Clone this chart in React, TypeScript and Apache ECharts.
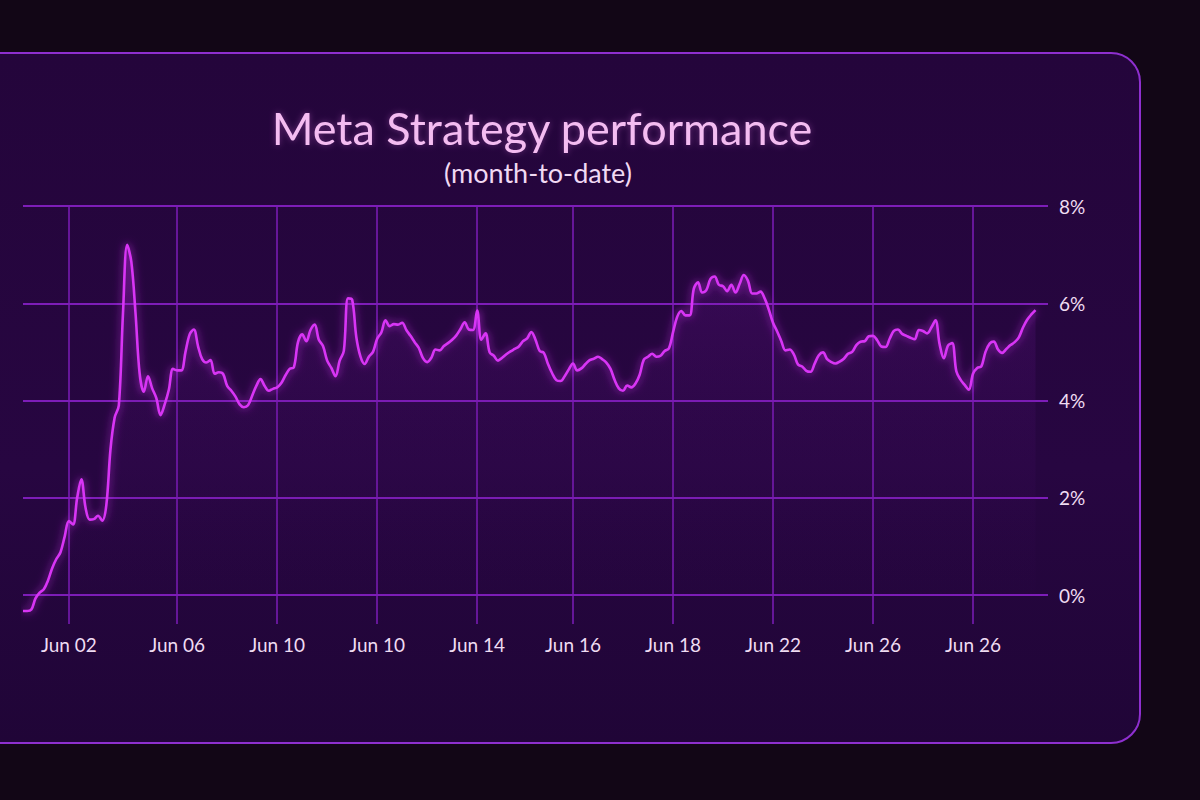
import React, { useEffect, useRef } from 'react';
import * as echarts from 'echarts';

// Month-to-date performance (%), sampled evenly along the x axis
const performance = [
  -0.33, -0.33, -0.3, -0.07, 0.05, 0.12, 0.3, 0.55, 0.74, 0.88,
  1.2, 1.52, 1.45, 2.0, 2.38, 1.8, 1.55, 1.56, 1.63, 1.53,
  1.85, 3.0, 3.65, 3.9, 5.8, 7.2, 6.85, 5.8, 4.55, 4.18,
  4.5, 4.25, 4.05, 3.7, 3.92, 4.22, 4.65, 4.62, 4.62, 5.0,
  5.36, 5.46, 5.12, 4.85, 4.78, 4.83, 4.55, 4.58, 4.55, 4.3,
  4.2, 4.08, 3.92, 3.86, 3.9, 4.1, 4.3, 4.44, 4.3, 4.2,
  4.24, 4.27, 4.36, 4.52, 4.65, 4.68, 5.2, 5.36, 5.22, 5.45,
  5.56, 5.25, 5.12, 4.82, 4.67, 4.5, 4.82, 5.02, 6.1, 6.07,
  5.3, 4.9, 4.75, 4.9, 5.0, 5.27, 5.4, 5.65, 5.53, 5.57,
  5.56, 5.6, 5.45, 5.33, 5.2, 5.08, 4.87, 4.79, 4.88, 5.05,
  5.03, 5.12, 5.18, 5.25, 5.34, 5.47, 5.61, 5.46, 5.45, 5.85,
  5.25, 5.38, 4.99, 4.92, 4.82, 4.88, 4.95, 5.01, 5.06, 5.11,
  5.22, 5.28, 5.41, 5.25, 5.02, 4.98, 4.75, 4.56, 4.42, 4.4,
  4.5, 4.64, 4.76, 4.62, 4.66, 4.75, 4.83, 4.86, 4.9, 4.85,
  4.78, 4.65, 4.42, 4.25, 4.2, 4.31, 4.27, 4.35, 4.53, 4.84,
  4.9, 4.96, 4.9, 4.92, 5.02, 5.07, 5.4, 5.72, 5.84, 5.75,
  5.75, 6.3, 6.43, 6.22, 6.27, 6.5, 6.55, 6.38, 6.35, 6.25,
  6.38, 6.22, 6.4, 6.58, 6.46, 6.2, 6.2, 6.24, 6.1, 5.87,
  5.6, 5.42, 5.22, 5.03, 5.05, 4.95, 4.74, 4.7, 4.61, 4.59,
  4.76, 4.93, 4.99, 4.85, 4.79, 4.76, 4.8, 4.86, 4.96, 5.0,
  5.14, 5.21, 5.22, 5.32, 5.33, 5.24, 5.11, 5.1, 5.27, 5.43,
  5.46, 5.37, 5.33, 5.29, 5.26, 5.45, 5.43, 5.38, 5.5, 5.65,
  5.15, 4.87, 5.13, 5.18, 4.6, 4.43, 4.32, 4.22, 4.55, 4.67,
  4.7, 5.0, 5.17, 5.21, 5.05, 4.98, 5.06, 5.14, 5.2, 5.3,
  5.5, 5.66, 5.77, 5.86,
];

// x-axis tick labels (as printed) and the sample index each sits at
const tickLabels = ['Jun 02', 'Jun 06', 'Jun 10', 'Jun 10', 'Jun 14', 'Jun 16', 'Jun 18', 'Jun 22', 'Jun 26', 'Jun 26'];
const tickIndex = [11, 37, 61, 85, 109, 132, 156, 180, 204, 228];
const slotCount = 247;

const yMin = 0;
const yMax = 8;
const yStep = 2;

const titleText = 'Meta Strategy performance';
const subtitleText = '(month-to-date)';

export default function App() {
  const ref = useRef<HTMLDivElement>(null);

  useEffect(() => {
    if (!ref.current) return;
    const chart = echarts.init(ref.current, null, { renderer: 'svg' });
    const categories = Array.from({ length: slotCount }, (_, i) => `p${i}`);
    const isTick = (i: number) => tickIndex.includes(i);
    const labelAt = (i: number) => {
      const k = tickIndex.indexOf(i);
      return k >= 0 ? tickLabels[k] : '';
    };
    const gridColor = '#7d1db8';
    chart.setOption({
      animation: false,
      backgroundColor: 'transparent',
      textStyle: { fontFamily: 'Lato, "Open Sans", sans-serif' },
      title: [
        {
          text: titleText,
          left: 542,
          top: 104,
          padding: 0,
          textAlign: 'center',
          textStyle: {
            color: '#f4bcf1',
            fontSize: 45,
            lineHeight: 48,
            fontWeight: 'normal',
            fontFamily: 'Lato, sans-serif',
            textShadowColor: 'rgba(240,120,240,0.35)',
            textShadowBlur: 6,
          },
        },
        {
          text: subtitleText,
          left: 538,
          top: 157,
          padding: 0,
          textAlign: 'center',
          textStyle: {
            color: '#f1d9f3',
            fontSize: 27,
            lineHeight: 30,
            fontWeight: 'normal',
            fontFamily: 'Lato, sans-serif',
          },
        },
      ],
      grid: { left: 23, right: 152, top: 206, bottom: 205, containLabel: false },
      xAxis: {
        type: 'category',
        data: categories,
        boundaryGap: false,
        axisLine: { show: false },
        axisTick: {
          show: true,
          length: 29,
          interval: (i: number) => isTick(i),
          lineStyle: { color: gridColor, width: 1.5 },
        },
        splitLine: {
          show: true,
          interval: (i: number) => isTick(i),
          lineStyle: { color: gridColor, width: 1.5 },
        },
        axisLabel: {
          show: true,
          interval: (i: number) => isTick(i),
          formatter: (_v: string, i: number) => labelAt(i),
          margin: 40,
          color: '#efdcf2',
          fontSize: 19,
          fontFamily: 'Lato, sans-serif',
        },
      },
      yAxis: {
        type: 'value',
        position: 'right',
        min: yMin,
        max: yMax,
        interval: yStep,
        axisLine: { show: false },
        axisTick: { show: false },
        splitLine: { show: true, lineStyle: { color: gridColor, width: 2 } },
        axisLabel: {
          margin: 11,
          color: '#efdcf2',
          fontSize: 19,
          fontFamily: 'Lato, sans-serif',
          formatter: (v: number) => `${v}%`,
        },
      },
      series: [
        {
          type: 'line',
          data: performance,
          smooth: 0.35,
          symbol: 'none',
          clip: false,
          lineStyle: {
            color: '#d834f5',
            width: 2.6,
            shadowColor: 'rgba(220,50,250,0.75)',
            shadowBlur: 8,
          },
          areaStyle: {
            origin: 'start',
            color: new echarts.graphic.LinearGradient(0, 0, 0, 1, [
              { offset: 0, color: 'rgba(140,30,190,0.28)' },
              { offset: 1, color: 'rgba(60,10,90,0.03)' },
            ]),
          },
        },
      ],
    });
    return () => chart.dispose();
  }, []);

  return (
    <div
      style={{
        position: 'fixed',
        left: 0,
        top: 0,
        width: 1200,
        height: 800,
        overflow: 'hidden',
        background: '#120616',
      }}
    >
      <div
        style={{
          position: 'absolute',
          left: -30,
          top: 52,
          width: 1171,
          height: 692,
          boxSizing: 'border-box',
          border: '2px solid #8e2fcf',
          borderRadius: 30,
          background: 'linear-gradient(180deg, #24053b 0%, #270641 60%, #200537 100%)',
        }}
      />
      <div ref={ref} style={{ position: 'absolute', left: 0, top: 0, width: 1200, height: 800 }} />
    </div>
  );
}
